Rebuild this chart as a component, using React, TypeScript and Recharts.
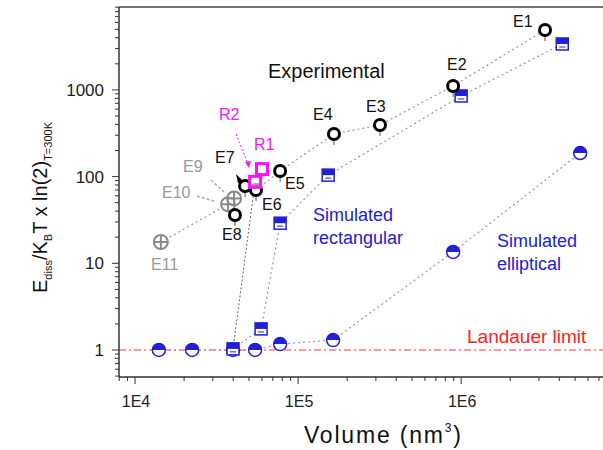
import React from 'react'
import { ScatterChart, Scatter, XAxis, YAxis, ReferenceLine } from 'recharts'

// values (volume in nm^3, normalised energy)
const experimental = [
  { name: 'E8', x: 41000, y: 36 },
  { name: 'E7', x: 47300, y: 78 },
  { name: 'E6', x: 55200, y: 70 },
  { name: 'E5', x: 77600, y: 116 },
  { name: 'E4', x: 166000, y: 310 },
  { name: 'E3', x: 318000, y: 394 },
  { name: 'E2', x: 893000, y: 1110 },
  { name: 'E1', x: 3270000, y: 4900 },
]
const experimentalFit = [
  { x: 55200, y: 70 },
  { x: 77600, y: 116 },
  { x: 166000, y: 310 },
  { x: 318000, y: 394 },
  { x: 893000, y: 1110 },
  { x: 3270000, y: 4900 },
]
const otherExperimental = [
  { name: 'E11', x: 14400, y: 17.6 },
  { name: 'E10', x: 37200, y: 48 },
  { name: 'E9', x: 40500, y: 56 },
]
const rings = [
  { name: 'R2', x: 54500, y: 87 },
  { name: 'R1', x: 60100, y: 122 },
]
const rectangular = [
  { x: 39900, y: 1.03 },
  { x: 59300, y: 1.75 },
  { x: 77600, y: 29 },
  { x: 153000, y: 104 },
  { x: 1000000, y: 851 },
  { x: 4170000, y: 3385 },
]
const rectGuide = [
  { x: 39900, y: 1.03 },
  { x: 54500, y: 87 },
]
const elliptical = [
  { x: 14000, y: 1 },
  { x: 22400, y: 1 },
  { x: 39900, y: 1 },
  { x: 54500, y: 1 },
  { x: 77600, y: 1.17 },
  { x: 164000, y: 1.3 },
  { x: 893000, y: 13.5 },
  { x: 5370000, y: 187 },
]
const landauer = 1

const xDomain = [7975, 12500000]
const yDomain = [0.488, 9040]
const xMajor = [1e4, 1e5, 1e6, 1e7]
const xMajorLabels = ['1E4', '1E5', '1E6', '']
const yMajor = [1, 10, 100, 1000]
const yMajorLabels = ['1', '10', '100', '1000']

function logTicks(lo: number, hi: number) {
  const out: number[] = []
  for (let k = -1; k <= 7; k++) {
    for (let m = 1; m <= 9; m++) {
      const v = m * Math.pow(10, k)
      if (v >= lo && v <= hi) out.push(v)
    }
  }
  return out
}

const isMajor = (v: number, majors: number[]) => majors.findIndex(m => Math.abs(m - v) / m < 1e-6)

const BLUE = '#2020d8'
const FONT = 'Liberation Sans, Arial, sans-serif'

const XTick = (props: any) => {
  const { x, y, payload } = props
  const i = isMajor(payload.value, xMajor)
  return (
    <g>
      <line x1={x} x2={x} y1={y} y2={y + (i >= 0 ? 7 : 4)} stroke="#333" strokeWidth={1} />
      {i >= 0 && xMajorLabels[i] && (
        <text x={x + 1} y={y + 30} textAnchor="middle" fontSize={16} fontFamily={FONT} fill="#222">
          {xMajorLabels[i]}
        </text>
      )}
    </g>
  )
}

const YTick = (props: any) => {
  const { x, y, payload } = props
  const i = isMajor(payload.value, yMajor)
  return (
    <g>
      <line x1={x} x2={x - (i >= 0 ? 7 : 4)} y1={y} y2={y} stroke="#333" strokeWidth={1} />
      {i >= 0 && (
        <text x={x - 15} y={y + 6} textAnchor="end" fontSize={17} fontFamily={FONT} fill="#222">
          {yMajorLabels[i]}
        </text>
      )}
    </g>
  )
}

const Ring = ({ cx, cy }: any) => (
  <g>
    <line x1={cx} x2={cx} y1={cy + 6} y2={cy + 11} stroke="#555" />
    <circle cx={cx} cy={cy} r={5.5} fill="#fff" stroke="#000" strokeWidth={3} />
  </g>
)

const Crossed = ({ cx, cy }: any) => (
  <g stroke="#8a8a8a" strokeWidth={2} fill="none">
    <circle cx={cx} cy={cy} r={7} fill="#fff" fillOpacity={0.4} />
    <line x1={cx - 7} x2={cx + 7} y1={cy} y2={cy} />
    <line x1={cx} x2={cx} y1={cy - 7} y2={cy + 7} />
  </g>
)

const MagentaSquare = ({ cx, cy }: any) => (
  <rect x={cx - 5.5} y={cy - 5.5} width={11} height={11} fill="#fff" fillOpacity={0.6} stroke="#ff10ff" strokeWidth={3} />
)

const HalfSquare = ({ cx, cy }: any) => (
  <g>
    <rect x={cx - 6} y={cy - 6} width={12} height={12} fill="#fff" stroke={BLUE} strokeWidth={1.5} />
    <rect x={cx - 6} y={cy - 6} width={12} height={6} fill={BLUE} />
    <line x1={cx - 3} x2={cx + 3} y1={cy + 3} y2={cy + 3} stroke={BLUE} strokeWidth={1} />
  </g>
)

const HalfCircle = ({ cx, cy }: any) => (
  <g>
    <circle cx={cx} cy={cy} r={6.5} fill="#fff" stroke={BLUE} strokeWidth={1.5} />
    <path d={`M ${cx - 6.5} ${cy} A 6.5 6.5 0 0 1 ${cx + 6.5} ${cy} Z`} fill={BLUE} />
  </g>
)

const Nothing = () => <g />

const dotted = { stroke: '#9393c8', strokeDasharray: '2 3', strokeWidth: 1.2 }

const label = (x: number, y: number, t: string, fill = '#111', size = 16) => (
  <text key={t + x + y} x={x} y={y} fontSize={size} fontFamily={FONT} fill={fill}>
    {t}
  </text>
)

export default function App() {
  const W = 603
  const H = 450
  return (
    <div style={{ position: 'absolute', left: 0, top: 0, width: W, height: H, overflow: 'hidden', background: '#fff' }}>
      <ScatterChart width={640} height={H} margin={{ top: 7, right: 0, bottom: 72, left: 0 }}>
        <XAxis
          type="number"
          dataKey="x"
          scale="log"
          domain={xDomain}
          allowDataOverflow
          ticks={logTicks(xDomain[0], xDomain[1])}
          interval={0}
          tick={<XTick />}
          tickLine={false}
          tickSize={0}
          tickMargin={0}
          height={1}
          axisLine={{ stroke: '#333', strokeWidth: 1.5 }}
        />
        <YAxis
          type="number"
          dataKey="y"
          scale="log"
          domain={yDomain}
          allowDataOverflow
          ticks={logTicks(yDomain[0], yDomain[1])}
          interval={0}
          tick={<YTick />}
          tickLine={false}
          tickSize={0}
          tickMargin={0}
          width={119}
          axisLine={{ stroke: '#333', strokeWidth: 1.5 }}
        />
        <ReferenceLine y={yDomain[1]} stroke="#444" strokeWidth={1.5} />
        <ReferenceLine y={landauer} stroke="#ff3a3a" strokeDasharray="7 3 2 3" strokeWidth={1} />
        <Scatter data={experimentalFit} shape={<Nothing />} line={dotted} isAnimationActive={false} />
        <Scatter data={rectGuide} shape={<Nothing />} line={{ stroke: '#666', strokeDasharray: '2 2', strokeWidth: 1 }} isAnimationActive={false} />
        <Scatter data={elliptical} shape={<HalfCircle />} line={dotted} isAnimationActive={false} />
        <Scatter data={rectangular} shape={<HalfSquare />} line={dotted} isAnimationActive={false} />
        <Scatter data={otherExperimental} shape={<Crossed />} line={{ stroke: '#9a9ab0', strokeDasharray: '2 3', strokeWidth: 1.2 }} isAnimationActive={false} />
        <Scatter data={experimental} shape={<Ring />} isAnimationActive={false} />
        <Scatter data={rings} shape={<MagentaSquare />} isAnimationActive={false} />
      </ScatterChart>
      <svg width={W} height={H} style={{ position: 'absolute', left: 0, top: 0, pointerEvents: 'none' }}>
        {label(268, 78, 'Experimental', '#111', 20)}
        {label(513, 27, 'E1')}
        {label(447, 70, 'E2')}
        {label(366, 112, 'E3')}
        {label(313, 120, 'E4')}
        {label(285, 189, 'E5')}
        {label(262, 210, 'E6')}
        {label(215, 163, 'E7')}
        {label(222, 240, 'E8')}
        {label(183, 172, 'E9', '#9a9a9a')}
        {label(162, 198, 'E10', '#9a9a9a')}
        {label(151, 270, 'E11', '#9a9a9a')}
        {label(219, 120, 'R2', '#ff10ff')}
        {label(254, 150, 'R1', '#ff10ff')}
        {label(313, 221, 'Simulated', BLUE, 18)}
        {label(313, 244, 'rectangular', BLUE, 18)}
        {label(497, 247, 'Simulated', BLUE, 18)}
        {label(497, 270, 'elliptical', BLUE, 18)}
        {label(467, 343, 'Landauer limit', '#ff2020', 19)}
        <line x1={236} y1={134} x2={248} y2={164} stroke="#ff10ff" strokeDasharray="2 2" />
        <path d="M 245 162 L 249 168 L 251 161 Z" fill="#ff10ff" />
        <path d="M 236 174 L 244 182 L 238 183 Z" fill="#000" />
        <line x1={211} y1={180} x2={224} y2={192} stroke="#aaa" strokeDasharray="3 2" strokeWidth={1.5} />
        <line x1={197} y1={196} x2={214} y2={201} stroke="#aaa" strokeDasharray="3 2" strokeWidth={1.5} />
        <text x={0} y={0} transform="translate(47 293) rotate(-90)" fontSize={20} fontFamily={FONT} fill="#111">
          E<tspan fontSize={11} dy={5}>diss</tspan>
          <tspan dy={-5}>/K</tspan>
          <tspan fontSize={11} dy={5}>B</tspan>
          <tspan dy={-5}>T x ln(2)</tspan>
          <tspan fontSize={11} dy={5}>T=300K</tspan>
        </text>
        <text x={304} y={443} fontSize={23} letterSpacing={1.8} fontFamily={FONT} fill="#111">
          Volume (nm<tspan fontSize={12} dy={-11}>3</tspan>
          <tspan dy={11}>)</tspan>
        </text>
      </svg>
    </div>
  )
}
